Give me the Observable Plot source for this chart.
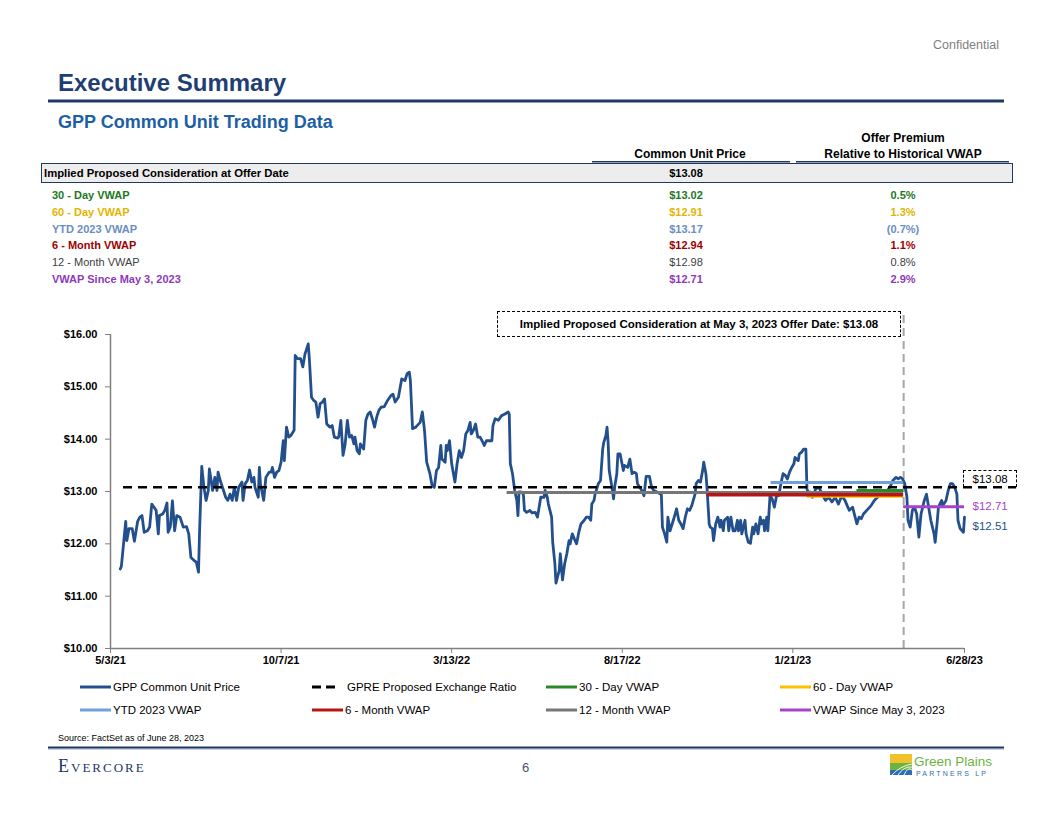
<!DOCTYPE html>
<html><head><meta charset="utf-8">
<script src="https://cdn.jsdelivr.net/npm/d3@7"></script>
<script src="https://cdn.jsdelivr.net/npm/@observablehq/plot@0.6"></script>
<style>
html,body{margin:0;padding:0;width:1056px;height:816px;overflow:hidden;background:#fff;}
#page{position:relative;width:1056px;height:816px;font-family:"Liberation Sans",Arial,sans-serif;}
#deco{position:absolute;left:0;top:0;}
#chart{position:absolute;left:0;top:300px;}
.box{position:absolute;box-sizing:border-box;}
</style></head><body>
<div id="page">
<svg id="deco" width="1056" height="816"></svg>
<div id="chart"></div>
</div>
<script>
// ---------------- DATA ----------------
const priceDates = [
"2021-05-12","2021-05-13","2021-05-15","2021-05-17","2021-05-18","2021-05-20","2021-05-23","2021-05-25","2021-05-28","2021-05-30",
"2021-06-01","2021-06-03","2021-06-06","2021-06-08","2021-06-10","2021-06-13","2021-06-14","2021-06-16","2021-06-17","2021-06-20",
"2021-06-22","2021-06-24","2021-06-25","2021-06-27","2021-06-29","2021-07-01","2021-07-03","2021-07-06","2021-07-09","2021-07-12",
"2021-07-14","2021-07-16","2021-07-19","2021-07-21","2021-07-23","2021-07-24","2021-07-26","2021-07-28","2021-07-30","2021-08-01",
"2021-08-02","2021-08-05","2021-08-07","2021-08-09","2021-08-10","2021-08-12","2021-08-15","2021-08-17","2021-08-19","2021-08-21",
"2021-08-23","2021-08-25","2021-08-27","2021-08-29","2021-09-01","2021-09-02","2021-09-04","2021-09-06","2021-09-08","2021-09-10",
"2021-09-12","2021-09-13","2021-09-16","2021-09-17","2021-09-18","2021-09-21","2021-09-23","2021-09-26","2021-09-28","2021-09-29",
"2021-10-01","2021-10-03","2021-10-05","2021-10-07","2021-10-09","2021-10-10","2021-10-12","2021-10-14","2021-10-16","2021-10-19",
"2021-10-20","2021-10-22","2021-10-25","2021-10-27","2021-10-29","2021-10-30","2021-11-01","2021-11-02","2021-11-04","2021-11-06",
"2021-11-08","2021-11-10","2021-11-12","2021-11-14","2021-11-16","2021-11-18","2021-11-21","2021-11-23","2021-11-25","2021-11-28",
"2021-11-29","2021-12-01","2021-12-03","2021-12-05","2021-12-07","2021-12-09","2021-12-11","2021-12-13","2021-12-14","2021-12-16",
"2021-12-18","2021-12-19","2021-12-22","2021-12-24","2021-12-26","2021-12-28","2021-12-30","2022-01-01","2022-01-03","2022-01-05",
"2022-01-07","2022-01-10","2022-01-13","2022-01-16","2022-01-18","2022-01-20","2022-01-23","2022-01-26","2022-01-29","2022-01-31",
"2022-02-02","2022-02-03","2022-02-05","2022-02-08","2022-02-12","2022-02-14","2022-02-16","2022-02-18","2022-02-21","2022-02-23",
"2022-02-25","2022-02-27","2022-03-01","2022-03-03","2022-03-04","2022-03-07","2022-03-08","2022-03-09","2022-03-11","2022-03-13",
"2022-03-16","2022-03-18","2022-03-20","2022-03-22","2022-03-24","2022-03-26","2022-03-28","2022-03-30","2022-03-31","2022-04-02",
"2022-04-04","2022-04-06","2022-04-08","2022-04-10","2022-04-12","2022-04-14","2022-04-16","2022-04-19","2022-04-20","2022-04-22",
"2022-04-25","2022-04-28","2022-05-01","2022-05-04","2022-05-05","2022-05-06","2022-05-08","2022-05-10","2022-05-12","2022-05-13",
"2022-05-14","2022-05-16","2022-05-18","2022-05-19","2022-05-21","2022-05-24","2022-05-26","2022-05-29","2022-05-31","2022-06-03",
"2022-06-06","2022-06-07","2022-06-09","2022-06-10","2022-06-13","2022-06-14","2022-06-16","2022-06-17","2022-06-20","2022-06-21",
"2022-06-23","2022-06-25","2022-06-27","2022-06-29","2022-06-30","2022-07-02","2022-07-04","2022-07-06","2022-07-08","2022-07-10",
"2022-07-13","2022-07-15","2022-07-17","2022-07-19","2022-07-20","2022-07-22","2022-07-23","2022-07-25","2022-07-26","2022-07-28",
"2022-07-30","2022-07-31","2022-08-02","2022-08-03","2022-08-04","2022-08-05","2022-08-07","2022-08-09","2022-08-10","2022-08-12",
"2022-08-13","2022-08-15","2022-08-18","2022-08-19","2022-08-22","2022-08-24","2022-08-26","2022-08-28","2022-08-30","2022-08-31",
"2022-09-02","2022-09-04","2022-09-06","2022-09-08","2022-09-11","2022-09-13","2022-09-15","2022-09-18","2022-09-22","2022-09-23",
"2022-09-25","2022-09-27","2022-09-28","2022-09-30","2022-10-03","2022-10-06","2022-10-08","2022-10-10","2022-10-12","2022-10-14",
"2022-10-16","2022-10-18","2022-10-20","2022-10-23","2022-10-24","2022-10-26","2022-10-28","2022-10-30","2022-10-31","2022-11-02",
"2022-11-03","2022-11-05","2022-11-06","2022-11-08","2022-11-09","2022-11-11","2022-11-13","2022-11-15","2022-11-16","2022-11-18",
"2022-11-19","2022-11-22","2022-11-23","2022-11-25","2022-11-27","2022-11-29","2022-12-01","2022-12-02","2022-12-04","2022-12-05",
"2022-12-08","2022-12-09","2022-12-11","2022-12-13","2022-12-15","2022-12-16","2022-12-18","2022-12-20","2022-12-22","2022-12-23",
"2022-12-25","2022-12-26","2022-12-28","2022-12-29","2022-12-31","2023-01-02","2023-01-04","2023-01-06","2023-01-08","2023-01-10",
"2023-01-12","2023-01-14","2023-01-16","2023-01-18","2023-01-20","2023-01-22","2023-01-23","2023-01-26","2023-01-27","2023-01-29",
"2023-01-31","2023-02-02","2023-02-03","2023-02-05","2023-02-06","2023-02-08","2023-02-11","2023-02-14","2023-02-17","2023-02-20",
"2023-02-23","2023-02-26","2023-03-01","2023-03-04","2023-03-07","2023-03-10","2023-03-12","2023-03-14","2023-03-17","2023-03-19",
"2023-03-21","2023-03-23","2023-03-25","2023-03-27","2023-03-30","2023-04-03","2023-04-06","2023-04-09","2023-04-12","2023-04-15",
"2023-04-18","2023-04-21","2023-04-23","2023-04-26","2023-04-28","2023-04-30","2023-05-02","2023-05-04","2023-05-06","2023-05-07",
"2023-05-09","2023-05-11","2023-05-13","2023-05-15","2023-05-17","2023-05-19","2023-05-22","2023-05-24","2023-05-26","2023-05-28",
"2023-05-31","2023-06-01","2023-06-03","2023-06-04","2023-06-07","2023-06-08","2023-06-11","2023-06-13","2023-06-15","2023-06-17",
"2023-06-19","2023-06-21","2023-06-22","2023-06-24","2023-06-27","2023-06-28"];
const prices = [
11.52,11.57,12.00,12.43,12.06,12.29,12.29,12.05,12.43,12.51,
12.54,12.22,12.25,12.32,12.76,12.67,12.64,12.19,12.54,12.57,
12.64,12.78,12.22,12.32,12.82,12.25,12.54,12.51,12.32,12.33,
12.19,11.74,11.68,11.65,11.46,12.25,13.48,13.08,12.83,13.02,
13.43,13.02,13.27,13.02,13.37,13.21,13.02,12.89,12.83,12.95,
12.83,13.08,12.83,13.08,13.18,12.83,13.15,13.21,13.41,13.18,
13.27,13.08,12.89,13.46,13.15,12.83,13.27,13.37,13.37,13.46,
13.27,13.37,13.40,13.56,13.97,13.59,14.23,14.04,14.07,14.17,
15.60,15.54,15.54,15.38,15.63,15.69,15.82,15.54,14.80,14.74,
14.71,14.42,14.68,14.71,14.77,14.29,14.23,14.26,14.04,14.02,
14.04,14.36,13.69,13.91,14.36,14.04,14.07,13.91,14.04,13.78,
13.72,13.91,13.81,14.36,14.48,14.52,14.39,14.23,14.42,14.55,
14.61,14.62,14.74,14.83,14.86,14.71,14.80,15.15,15.12,15.25,
15.28,15.12,14.20,14.23,14.32,14.52,14.17,13.56,13.34,13.11,
13.08,13.40,13.46,13.88,13.62,13.56,13.88,13.78,13.97,13.53,
13.18,13.53,13.78,13.65,13.78,14.10,14.17,14.32,14.10,14.17,
14.29,14.04,14.04,13.97,13.88,13.97,13.97,13.97,14.26,14.39,
14.36,14.45,14.48,14.52,14.48,13.53,13.34,13.02,12.83,12.54,
12.99,12.99,12.95,12.64,12.60,12.64,12.59,12.60,12.51,12.89,
12.89,13.02,12.89,12.76,12.51,12.03,11.62,11.25,11.49,11.81,
11.31,11.62,11.81,12.06,12.00,12.19,12.09,12.00,12.22,12.38,
12.45,12.51,12.51,12.45,12.76,12.83,12.95,13.08,13.15,13.21,
13.81,13.94,14.07,14.23,13.94,13.40,13.15,12.86,13.08,13.34,
13.72,13.72,13.40,13.50,13.46,13.62,13.34,13.37,13.34,13.15,
13.08,13.02,12.92,13.29,13.29,13.08,13.02,12.99,12.94,12.32,
12.19,12.03,12.51,12.25,12.45,12.67,12.45,12.38,12.29,12.51,
12.67,12.64,12.73,12.95,13.15,13.21,13.18,13.40,13.56,13.34,
13.08,12.38,12.32,12.29,12.06,12.38,12.51,12.32,12.45,12.25,
12.45,12.51,12.25,12.51,12.25,12.25,12.45,12.25,12.45,12.19,
12.45,12.19,12.03,12.01,12.32,12.19,12.38,12.19,12.51,12.38,
12.45,12.25,12.51,12.25,12.92,12.86,12.70,12.92,12.92,13.15,
13.34,13.31,13.24,13.37,13.46,13.53,13.65,13.59,13.72,13.75,
13.81,13.81,13.05,12.92,12.99,12.89,13.05,13.08,12.95,12.83,
12.89,12.80,12.89,12.76,12.92,12.83,12.73,12.64,12.70,12.54,
12.38,12.51,12.48,12.57,12.64,12.73,12.83,12.89,12.95,12.99,
13.02,13.11,13.21,13.27,13.24,13.27,13.24,13.15,12.89,12.45,
12.32,12.64,12.70,12.57,12.13,12.57,12.83,12.95,12.70,12.45,
12.19,12.03,12.45,12.70,12.83,12.73,12.83,13.02,13.15,13.15,
13.08,12.95,12.45,12.29,12.22,12.51];

const exchangeRatioValue = 13.08;
const exchangeRatioSpan = ["2021-05-15","2023-08-15"];
const offerDate = "2023-05-03";

const vwapNames   = ["30 - Day VWAP","60 - Day VWAP","YTD 2023 VWAP","6 - Month VWAP","12 - Month VWAP","VWAP Since May 3, 2023"];
const vwapValues  = [13.02, 12.91, 13.17, 12.94, 12.98, 12.71];
const vwapStart   = ["2023-03-21","2023-02-03","2023-01-01","2022-11-03","2022-05-03","2023-05-03"];
const vwapEnd     = ["2023-05-03","2023-05-03","2023-05-03","2023-05-03","2023-05-03","2023-06-28"];
const vwapPremium = ["0.5%","1.3%","(0.7%)","1.1%","0.8%","2.9%"];
const impliedLabel = "Implied Proposed Consideration at Offer Date";
const impliedPrice = 13.08;
const lastPrice = 12.51;

const xTicks = ["2021-05-03","2021-10-07","2022-03-13","2022-08-17","2023-01-21","2023-06-28"];
const yTicks = [10, 11, 12, 13, 14, 15, 16];

const legendNames = ["GPP Common Unit Price","GPRE Proposed Exchange Ratio","30 - Day VWAP","60 - Day VWAP",
                     "YTD 2023 VWAP","6 - Month VWAP","12 - Month VWAP","VWAP Since May 3, 2023"];

// ---------------- STYLE ----------------
const FONT = '"Liberation Sans", Arial, Helvetica, sans-serif';
const NAVY = "#1F3864";
const priceColor = "#23508C";
const lineColor = {"30 - Day VWAP":"#2A8A2A","60 - Day VWAP":"#FFC000","YTD 2023 VWAP":"#6FA0DA",
  "6 - Month VWAP":"#B81414","12 - Month VWAP":"#767676","VWAP Since May 3, 2023":"#A544C9"};
const textColor = {"30 - Day VWAP":"#1E781E","60 - Day VWAP":"#E3B400","YTD 2023 VWAP":"#6B8DC4",
  "6 - Month VWAP":"#A00000","12 - Month VWAP":"#404040","VWAP Since May 3, 2023":"#8E3AB8"};

const parse = d3.utcParse("%Y-%m-%d");

// ---------------- PAGE DECORATION ----------------
const svg = d3.select("#deco").style("font-family", FONT);
function T(x, y, s, o = {}) {
  const t = svg.append("text").attr("x", x).attr("y", y).text(s)
    .attr("font-size", o.size || 11).attr("fill", o.fill || "#000")
    .attr("font-weight", o.weight || "normal").attr("text-anchor", o.anchor || "start");
  if (o.family) t.attr("font-family", o.family);
  if (o.ls) t.attr("letter-spacing", o.ls);
  return t;
}
T(999, 49, "Confidential", {size: 12.5, fill: "#7F7F7F", anchor: "end"});
T(58, 91, "Executive Summary", {size: 24, weight: "bold", fill: "#1F3F74"});
svg.append("rect").attr("x", 48).attr("y", 99.5).attr("width", 956).attr("height", 3).attr("fill", NAVY);
T(58, 128, "GPP Common Unit Trading Data", {size: 18, weight: "bold", fill: "#1D5FA6"});

// table header
const colPrice = 690, colPrem = 903;
T(colPrem, 141.5, "Offer Premium", {size: 12, weight: "bold", anchor: "middle"});
T(colPrem, 157.5, "Relative to Historical VWAP", {size: 12, weight: "bold", anchor: "middle"});
T(colPrice, 157.5, "Common Unit Price", {size: 12, weight: "bold", anchor: "middle"});
svg.append("rect").attr("x", 592).attr("y", 161).attr("width", 198).attr("height", 1.5).attr("fill", NAVY);
svg.append("rect").attr("x", 796).attr("y", 161).attr("width", 213).attr("height", 1.5).attr("fill", NAVY);
svg.append("rect").attr("x", 41.5).attr("y", 163.5).attr("width", 971).attr("height", 19)
  .attr("fill", "#EDEDED").attr("stroke", NAVY).attr("stroke-width", 1);
T(44, 176.5, impliedLabel, {size: 11.3, weight: "bold"});
T(colPrice - 4, 176.5, "$" + impliedPrice.toFixed(2), {size: 11, weight: "bold", anchor: "middle"});
vwapNames.forEach((n, i) => {
  const y = 199 + i * 16.8;
  const w = n === "12 - Month VWAP" ? "normal" : "bold";
  T(52, y, n, {size: 11, weight: w, fill: textColor[n]});
  T(colPrice - 4, y, "$" + vwapValues[i].toFixed(2), {size: 11, weight: w, fill: textColor[n], anchor: "middle"});
  T(colPrem, y, vwapPremium[i], {size: 11, weight: w, fill: textColor[n], anchor: "middle"});
});

// legend
const legX = [80, 312, 546, 780], legY = [687, 710];
legendNames.forEach((n, i) => {
  const x = legX[i % 4], y = legY[Math.floor(i / 4)];
  const c = n === "GPP Common Unit Price" ? priceColor : n === "GPRE Proposed Exchange Ratio" ? "#000" : lineColor[n];
  const l = svg.append("line").attr("x1", x).attr("x2", x + 31).attr("y1", y).attr("y2", y)
    .attr("stroke", c).attr("stroke-width", 3);
  if (n === "GPRE Proposed Exchange Ratio") {
    l.attr("x2", x + 23).attr("stroke-dasharray", "9,5");
    T(x + 35, y + 4, n, {size: 11.5});
  } else {
    T(x + 33, y + 4, n, {size: 11.5});
  }
});

T(58, 740.5, "Source: FactSet as of June 28, 2023", {size: 9});
svg.append("rect").attr("x", 48).attr("y", 746.5).attr("width", 956).attr("height", 2.2).attr("fill", NAVY);
svg.append("rect").attr("x", 48).attr("y", 748.7).attr("width", 956).attr("height", 1).attr("fill", "#B4C2D8");
T(58, 772, "Evercore", {size: 18, fill: NAVY, family: '"Liberation Serif", "DejaVu Serif", serif', ls: 2})
  .style("font-variant", "small-caps");
T(525.5, 772, "6", {size: 13, fill: "#44546A", anchor: "middle"});
// Green Plains Partners logo
const lg = svg.append("g").attr("transform", "translate(890,754)");
lg.append("rect").attr("width", 22).attr("height", 9).attr("fill", "#F2C12E");
lg.append("rect").attr("y", 9).attr("width", 22).attr("height", 7).attr("fill", "#6DB33F");
lg.append("rect").attr("y", 16).attr("width", 22).attr("height", 5).attr("fill", "#2E6DB4");
[0, 1, 2].forEach(k => lg.append("path").attr("d", `M${2 + k * 6},21 Q${10 + k * 4},12 22,${10 + k * 3}`)
  .attr("fill", "none").attr("stroke", "#fff").attr("stroke-width", 0.9));
T(914, 766, "Green Plains", {size: 13.5, fill: "#6DB33F"});
T(916, 775.5, "PARTNERS LP", {size: 7, fill: "#2E6DB4", ls: 2.2});

// ---------------- CHART ----------------
const priceData = priceDates.map((d, i) => ({date: parse(d), price: prices[i]}));
const vwapData = vwapNames.map((n, i) => ({name: n, value: vwapValues[i], start: parse(vwapStart[i]), end: parse(vwapEnd[i])}));
const drawOrder = ["12 - Month VWAP", "60 - Day VWAP", "6 - Month VWAP", "YTD 2023 VWAP", "30 - Day VWAP", "VWAP Since May 3, 2023"];
const vwapSorted = drawOrder.map(n => vwapData.find(d => d.name === n));
const endDate = parse(xTicks[xTicks.length - 1]);
const endLabels = [
  {date: endDate, value: exchangeRatioValue, text: "$" + exchangeRatioValue.toFixed(2), fill: "#000", off: -8},
  {date: endDate, value: vwapValues[5], text: "$" + vwapValues[5].toFixed(2), fill: lineColor["VWAP Since May 3, 2023"], off: 0},
  {date: endDate, value: lastPrice, text: "$" + lastPrice.toFixed(2), fill: priceColor, off: 9}
];
const axisGrey = "#808080";

const chart = Plot.plot({
  width: 1056, height: 380,
  marginLeft: 110, marginRight: 92, marginTop: 34, marginBottom: 32,
  style: {fontFamily: FONT, fontSize: "11px", color: "#000", background: "transparent", overflow: "visible"},
  x: {type: "utc", domain: [parse(xTicks[0]), endDate], label: null},
  y: {domain: [yTicks[0], yTicks[yTicks.length - 1]], label: null},
  marks: [
    Plot.ruleX([parse(offerDate)], {y1: yTicks[0], y2: 16.42, stroke: "#A6A6A6", strokeWidth: 2, strokeDasharray: "8,5"}),
    Plot.line(priceData, {x: "date", y: "price", stroke: priceColor, strokeWidth: 2.8, strokeLinejoin: "round"}),
    Plot.ruleY([exchangeRatioValue], {x1: parse(exchangeRatioSpan[0]), x2: parse(exchangeRatioSpan[1]), stroke: "#000", strokeWidth: 2.5, strokeDasharray: "9,6"}),
    ...vwapSorted.map(d => Plot.ruleY([d], {y: "value", x1: "start", x2: "end", stroke: lineColor[d.name], strokeWidth: d.name === "6 - Month VWAP" ? 3.5 : 3})),
    Plot.ruleY([yTicks[0]], {stroke: axisGrey, strokeWidth: 1.5}),
    Plot.ruleX([parse(xTicks[0])], {stroke: axisGrey, strokeWidth: 1.5}),
    Plot.axisY({ticks: yTicks, tickFormat: d => "$" + d.toFixed(2), tickSize: 5, tickPadding: 8, fontWeight: "bold", fontSize: 11, stroke: axisGrey}),
    Plot.axisX({ticks: xTicks.map(parse), tickFormat: d3.utcFormat("%-m/%-d/%y"), tickSize: 5, tickPadding: 3, fontWeight: "bold", fontSize: 11, stroke: axisGrey}),
    ...endLabels.map(d => Plot.text([d], {x: "date", y: "value", text: "text", fill: d.fill, dy: d.off, dx: 8, textAnchor: "start", fontSize: 11.5}))
  ]
});
document.getElementById("chart").appendChild(chart);

// annotation boxes (overlay)
const page = document.getElementById("page");
const ann = document.createElement("div");
ann.className = "box";
Object.assign(ann.style, {left: "497px", top: "311px", width: "404px", height: "26px", border: "1.5px dashed #000",
  font: "bold 11.5px " + FONT, display: "flex", alignItems: "center", justifyContent: "center", background: "#fff"});
ann.textContent = "Implied Proposed Consideration at May 3, 2023 Offer Date: $" + impliedPrice.toFixed(2);
page.appendChild(ann);
const lb = document.createElement("div");
lb.className = "box";
Object.assign(lb.style, {left: "963px", top: "470px", width: "54px", height: "17px", borderTop: "1.5px dashed #000",
  borderLeft: "1.5px dashed #000", borderRight: "1.5px dashed #000"});
page.appendChild(lb);
</script>
</body></html>
